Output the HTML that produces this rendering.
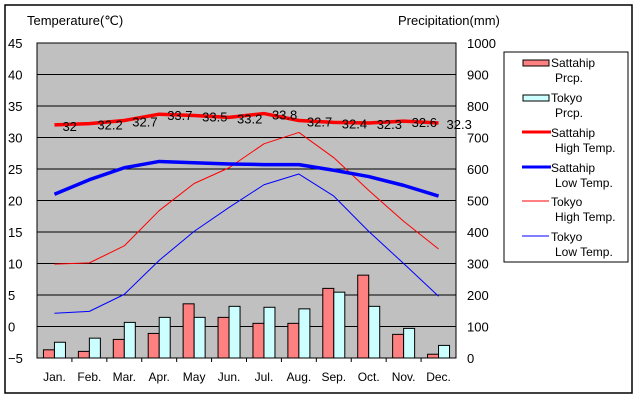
<!DOCTYPE html>
<html><head><meta charset="utf-8">
<style>
body{margin:0;background:#fff;}
svg{display:block;font-family:"Liberation Sans",sans-serif;}
</style></head><body>
<svg id="chart" width="640" height="400" xmlns="http://www.w3.org/2000/svg">
<rect x="5" y="5" width="627" height="388" fill="#fff" stroke="#000" stroke-width="1.5"/>
<rect x="37" y="43" width="419" height="315" fill="#c0c0c0" stroke="#000"/>
<text x="27" y="25" font-size="13">Temperature(℃)</text>
<text x="398" y="25" font-size="13">Precipitation(mm)</text>
<g id="grid"></g><g id="bars"></g><g id="lines"></g><g id="labels"></g><g id="axes"></g>
<g>
<rect x="504" y="52" width="124" height="210" fill="#fff" stroke="#000"/>
<rect x="523" y="60" width="26" height="6" fill="#ff8080" stroke="#000"/>
<text x="551" y="67" font-size="12">Sattahip</text><text x="555" y="82" font-size="12">Prcp.</text>
<rect x="523" y="95" width="26" height="6" fill="#ccffff" stroke="#000"/>
<text x="551" y="102" font-size="12">Tokyo</text><text x="555" y="117" font-size="12">Prcp.</text>
<line x1="522" y1="132" x2="551" y2="132" stroke="#f00" stroke-width="3"/>
<text x="551" y="137" font-size="12">Sattahip</text><text x="555" y="152" font-size="12">High Temp.</text>
<line x1="522" y1="167" x2="551" y2="167" stroke="#00f" stroke-width="3"/>
<text x="551" y="172" font-size="12">Sattahip</text><text x="555" y="187" font-size="12">Low Temp.</text>
<line x1="522" y1="201" x2="549" y2="201" stroke="#f00" stroke-width="1"/>
<text x="551" y="206" font-size="12">Tokyo</text><text x="555" y="221" font-size="12">High Temp.</text>
<line x1="522" y1="236" x2="549" y2="236" stroke="#00f" stroke-width="1"/>
<text x="551" y="241" font-size="12">Tokyo</text><text x="555" y="256" font-size="12">Low Temp.</text>
</g>
</svg>
<script>
const months=["Jan.","Feb.","Mar.","Apr.","May","Jun.","Jul.","Aug.","Sep.","Oct.","Nov.","Dec."];
const sattahipPrcp=[26,21,59,78,172,129,110,110,221,263,75,12];
const tokyoPrcp=[50,63,113,129,129,164,161,156,209,164,94,40];
const sattahipHigh=[32,32.2,32.7,33.7,33.5,33.2,33.8,32.7,32.4,32.3,32.6,32.3];
const sattahipLow=[21,23.3,25.2,26.2,26,25.8,25.7,25.7,24.8,23.8,22.4,20.7];
const tokyoHigh=[9.9,10.1,12.8,18.4,22.7,25.2,29,30.8,26.8,21.6,16.7,12.3];
const tokyoLow=[2.1,2.4,5.1,10.5,15.1,18.9,22.5,24.2,20.7,15.1,10,4.8];
const tempTicks=[-5,0,5,10,15,20,25,30,35,40,45];
const prcpTicks=[0,100,200,300,400,500,600,700,800,900,1000];
const NS="http://www.w3.org/2000/svg";
const L=37,R=456,T=43,B=358,cw=(R-L)/12;
const yT=v=>B-(v+5)/50*(B-T);
const yP=v=>B-v/1000*(B-T);
const xC=i=>L+cw*(i+0.5);
function mk(tag,attrs,parent,txt){const e=document.createElementNS(NS,tag);for(const k in attrs)e.setAttribute(k,attrs[k]);if(txt!==undefined)e.textContent=txt;document.getElementById(parent).appendChild(e);return e;}
tempTicks.forEach((t,i)=>{
  const g=mk('line',{x1:L,x2:R,y1:yT(t),y2:yT(t),stroke:'#000'},'grid');
  
  
  const lb=mk('text',{x:8,y:yT(t)+5,'font-size':13},'axes',String(t).replace('-','−'));
  
  
});
prcpTicks.forEach(p=>{
  const lb=mk('text',{x:467,y:yP(p)+5,'font-size':13},'axes',String(p));
  
  
});
months.forEach((m,i)=>{
  const lb=mk('text',{x:xC(i),y:381,'font-size':12,'text-anchor':'middle'},'axes',m);
  
  
  if(i>0){const tk=mk('line',{x1:L+cw*i,x2:L+cw*i,y1:B,y2:B+4,stroke:'#000'},'axes');
  
  }
  const b1=mk('rect',{x:xC(i)-11,y:yP(sattahipPrcp[i]),width:11,height:B-yP(sattahipPrcp[i]),fill:'#ff8080',stroke:'#000'},'bars');
  
  
  const b2=mk('rect',{x:xC(i),y:yP(tokyoPrcp[i]),width:11,height:B-yP(tokyoPrcp[i]),fill:'#ccffff',stroke:'#000'},'bars');
  
  
});
function line(arr,color,w,name){
  const pts=arr.map((v,i)=>xC(i)+','+yT(v)).join(' ');
  const p=mk('polyline',{points:pts,fill:'none',stroke:color,'stroke-width':w,'stroke-linejoin':'round'},'lines');
  
  
}
line(tokyoHigh,'#f00',1,'tokyo-high-line');
line(tokyoLow,'#00f',1,'tokyo-low-line');
line(sattahipLow,'#00f',3.5,'sattahip-low-line');
line(sattahipHigh,'#f00',3.5,'sattahip-high-line');
sattahipHigh.forEach((v,i)=>{
  const t=mk('text',{x:xC(i)+8,y:yT(v)+6,'font-size':13},'labels',String(v));
  
  
});
</script>
</body></html>
